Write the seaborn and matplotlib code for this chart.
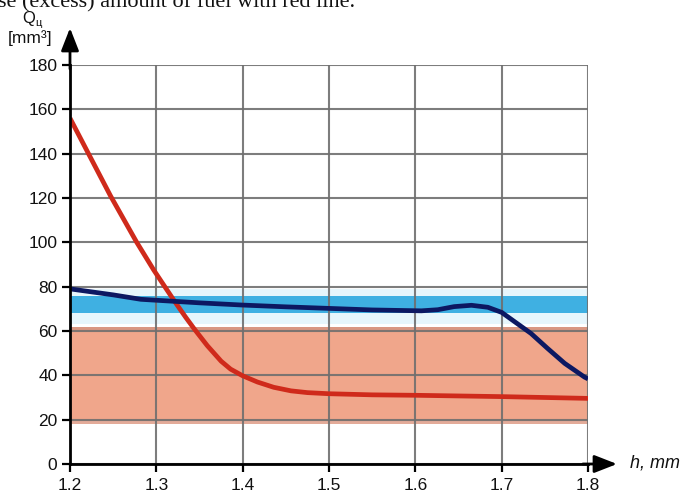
import matplotlib
matplotlib.use("Agg")
import matplotlib.pyplot as plt
import seaborn as sns
import pandas as pd

# Plunger stroke h [mm] vs. cyclic fuel delivery Q [mm^3]
h_red = [1.200, 1.221, 1.247, 1.277, 1.297, 1.311, 1.322, 1.334, 1.344, 1.359,
         1.375, 1.386, 1.400, 1.417, 1.436, 1.456, 1.475, 1.500, 1.550, 1.600,
         1.700, 1.800]
q_red = [156, 140.3, 120.9, 100.2, 87.5, 79.3, 72.9, 66.2, 60.9, 53.4,
         46.4, 42.8, 39.8, 37.0, 34.6, 33.0, 32.2, 31.7, 31.2, 31.0,
         30.4, 29.6]

h_blue = [1.200, 1.250, 1.282, 1.350, 1.400, 1.450, 1.500, 1.550, 1.607, 1.626,
          1.645, 1.665, 1.684, 1.700, 1.715, 1.734, 1.753, 1.773, 1.796, 1.800]
q_blue = [79, 76.3, 74.3, 72.7, 71.7, 70.9, 70.2, 69.5, 69.1, 69.6,
          71.0, 71.6, 70.7, 68.4, 64.2, 58.9, 52.2, 45.4, 39.2, 38.4]

blue_band = (68, 76)
blue_halo = (63, 79)
red_band = (18, 62)

x_ticks = [1.2, 1.3, 1.4, 1.5, 1.6, 1.7, 1.8]
y_ticks = [0, 20, 40, 60, 80, 100, 120, 140, 160, 180]

sns.set_theme(style="white")
plt.rcParams["font.family"] = ["Liberation Sans", "DejaVu Sans"]

W, H = 694, 494
fig = plt.figure(figsize=(W / 100, H / 100), dpi=100)
fig.patch.set_facecolor("white")

def px(x, y):
    return x / W, 1 - y / H

left, top = px(70, 65)
right, bottom = px(588, 464)
ax = fig.add_axes([left, bottom, right - left, top - bottom])
ax.set_facecolor("white")

ax.set_xlim(1.2, 1.8)
ax.set_ylim(0, 180)

# shaded tolerance bands
ax.fill_between([1.2, 1.8], *blue_halo, color="#e6f6fc", lw=0, zorder=0.6)
ax.fill_between([1.2, 1.8], *blue_band, color="#3fb0e2", lw=0, zorder=0.7)
ax.fill_between([1.2, 1.8], *red_band, color="#f0a68b", lw=0, zorder=0.7)
ax.fill_between([1.2, 1.8], red_band[1] - 1.6, red_band[1], color="#d99782",
                lw=0, zorder=0.75)
ax.fill_between([1.2, 1.8], red_band[0], red_band[0] + 1.4, color="#e3ab99",
                lw=0, zorder=0.75)

ax.set_axisbelow("line")
ax.grid(True, color="#6f6f6f", lw=1.5, alpha=0.9)

df_red = pd.DataFrame({"h": h_red, "Q": q_red})
df_blue = pd.DataFrame({"h": h_blue, "Q": q_blue})
sns.lineplot(data=df_red, x="h", y="Q", ax=ax, color="#cf2a1b", lw=3.4,
             sort=False, zorder=3, solid_capstyle="butt", solid_joinstyle="round")
sns.lineplot(data=df_blue, x="h", y="Q", ax=ax, color="#0c1862", lw=3.4,
             sort=False, zorder=4, solid_capstyle="butt", solid_joinstyle="round")

ax.set_xticks(x_ticks)
ax.set_yticks(y_ticks)
ax.set_xticklabels([f"{v:.1f}" for v in x_ticks])
ax.set_yticklabels([str(v) for v in y_ticks])
ax.tick_params(axis="both", which="both", direction="out", length=6,
               width=1.6, color="black", labelsize=12.5, labelcolor="#111111",
               bottom=True, left=True)
ax.tick_params(axis="x", pad=4)
ax.tick_params(axis="y", pad=3)
ax.set_xlabel("")
ax.set_ylabel("")

for side in ("top", "right"):
    ax.spines[side].set_visible(False)
for side in ("left", "bottom"):
    ax.spines[side].set_color("black")
    ax.spines[side].set_linewidth(2)
    ax.spines[side].set_zorder(5)

# axis arrows
ax.annotate("", xy=(0, 1 + 37 / 399), xytext=(0, 0.99), xycoords="axes fraction",
            arrowprops=dict(arrowstyle="-|>,head_length=1.15,head_width=0.45",
                            color="black", lw=2, shrinkA=0, shrinkB=0),
            annotation_clip=False)
ax.annotate("", xy=(1 + 29 / 518, 0), xytext=(0.99, 0), xycoords="axes fraction",
            arrowprops=dict(arrowstyle="-|>,head_length=1.15,head_width=0.45",
                            color="black", lw=2, shrinkA=0, shrinkB=0),
            annotation_clip=False)

# axis titles
fig.text(*px(22, 23), "Q", fontsize=12, color="#111111", va="baseline", ha="left")
fig.text(*px(35.5, 26), "ц", fontsize=8, color="#111111", va="baseline", ha="left")
fig.text(*px(8, 43), "[mm³]", fontsize=12.5, color="#111111", va="baseline", ha="left")
fig.text(*px(630, 468), "h, mm", fontsize=13, style="italic", color="#111111",
         va="baseline", ha="left")

# caption line running in from above
fig.text(*px(-2, 7), "se (excess) amount of fuel with red line.", fontsize=16,
         family=["Liberation Serif", "DejaVu Serif"], color="#111111",
         va="baseline", ha="left")

fig.savefig("out.png", dpi=100, facecolor="white")
